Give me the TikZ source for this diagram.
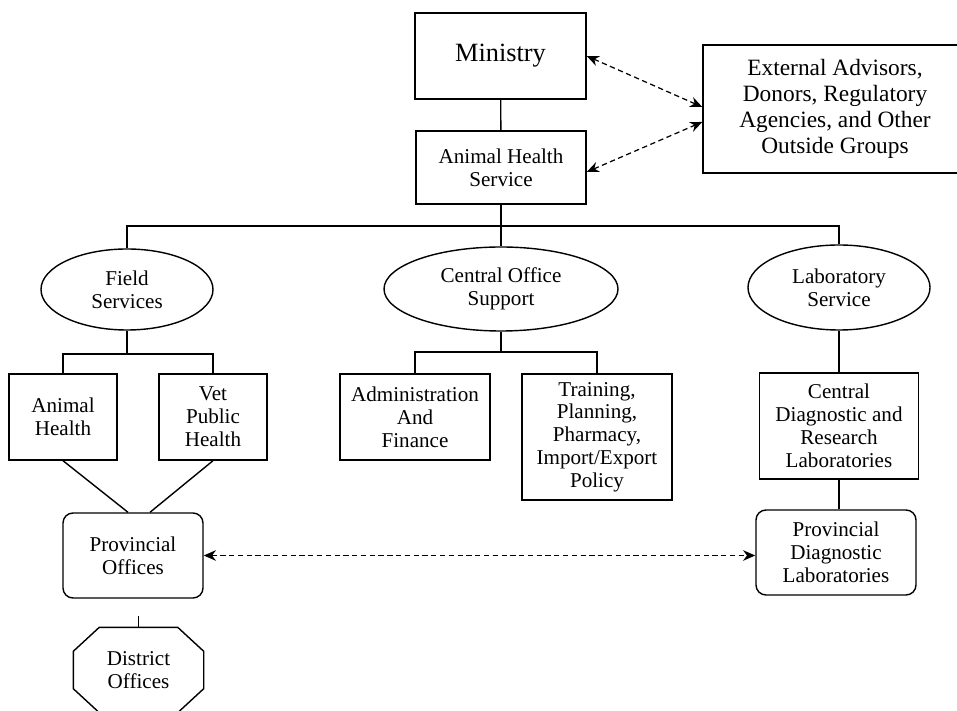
\documentclass[tikz,border=0pt]{standalone}
\usepackage{fontspec}
\setmainfont{Liberation Serif}
\usetikzlibrary{
		arrows.meta,
		shapes.geometric
	}
\tikzset{
		>={Stealth[length=7pt,width=6pt]},
		unit/.style={draw, align=center, inner sep=0pt,
			font=\fontsize{12}{13}\selectfont},
		box/.style={unit, rectangle},
		oval/.style={unit, ellipse},
		roundbox/.style={unit, rectangle, rounded corners=0.2cm},
		link/.style={<->, line width=0.7pt, dash pattern=on 3pt off 2pt}
	}

\begin{document}
\begin{tikzpicture}[line width=0.8pt]
          \useasboundingbox (0,0) rectangle (19.14,14.2);
          \clip (0,0) rectangle (19.14,14.2);

          % top of the tree
          \node[box, minimum width=3.42cm, minimum height=1.72cm,
                font=\fontsize{15}{17}\selectfont] (ministry) at (10.01,13.08) {Ministry};
          \node[box, minimum width=3.40cm, minimum height=1.46cm] (ahs) at (10.02,10.85)
                {Animal Health\\Service};
          \node[box, minimum width=5.28cm, minimum height=2.56cm,
                font=\fontsize{13.3}{14.7}\selectfont] (ext) at (16.70,12.02)
                {External Advisors,\\Donors, Regulatory\\Agencies, and Other\\Outside Groups};

          % the three services
          \node[oval, minimum width=3.44cm, minimum height=1.62cm] (field) at (2.54,8.41)
                {Field\\Services};
          \node[oval, minimum width=4.68cm, minimum height=1.68cm] (central) at (10.02,8.42)
                {Central Office\\Support};
          \node[oval, minimum width=3.64cm, minimum height=1.70cm] (lab) at (16.78,8.45)
                {Laboratory\\Service};

          % units under each service
          \node[box, minimum width=2.16cm, minimum height=1.72cm] (ah) at (1.26,5.86)
                {Animal\\Health};
          \node[box, minimum width=2.16cm, minimum height=1.72cm] (vet) at (4.26,5.86)
                {Vet\\Public\\Health};
          \node[box, minimum width=3.0cm, minimum height=1.72cm] (admin) at (8.30,5.86)
                {Administration\\And\\Finance};
          \node[box, minimum width=3.0cm, minimum height=2.52cm] (training) at (11.94,5.46)
                {Training,\\Planning,\\Pharmacy,\\Import/Export\\Policy};
          \node[box, minimum width=3.18cm, minimum height=2.12cm] (cdiag) at (16.78,5.68)
                {Central\\Diagnostic and\\Research\\Laboratories};

          % provinces and districts
          \node[roundbox, minimum width=2.8cm, minimum height=1.70cm] (provoff) at (2.66,3.09)
                {Provincial\\Offices};
          \node[roundbox, minimum width=3.2cm, minimum height=1.70cm] (pdiag) at (16.72,3.15)
                {Provincial\\Diagnostic\\Laboratories};
          \node[unit, draw=none, minimum width=2.58cm, minimum height=1.68cm] (district) at (2.77,0.80)
                {District\\Offices};
          % octagon round the district node
          \draw ([xshift=0.52cm]district.north west) -- ([xshift=-0.52cm]district.north east)
                -- ([yshift=-0.48cm]district.north east) -- ([yshift=0.48cm]district.south east)
                -- ([xshift=-0.52cm]district.south east) -- ([xshift=0.52cm]district.south west)
                -- ([yshift=0.48cm]district.south west) -- ([yshift=-0.48cm]district.north west)
                -- cycle;

          \coordinate (bus) at (10.02,9.68);
          \coordinate (fbus) at (2.54,7.12);
          \coordinate (cbus) at (10.02,7.16);

          \draw (ministry) -- (ahs);
          \draw (ahs.south) -- (bus);
          \draw (field.north) |- (bus) -| (lab.north);
          \draw (bus) -- (central.north);

          \draw (field.south) -- (fbus);
          \draw (ah.north) |- (fbus) -| (vet.north);
          \draw (central.south) -- (central.south |- cbus);
          \draw (admin.north) |- (cbus) -| (training.north);
          \draw (lab.south) -- (cdiag.north);
          \draw (cdiag.south) -- (cdiag.south |- pdiag.north);

          \draw (ah.south) -- ([xshift=-0.1cm]provoff.north);
          \draw (vet.south) -- ([xshift=0.34cm]provoff.north);
          \draw (district.north) -- ++(0,0.22);

          % outside contacts
          \draw[link] (ministry.east) -- ([yshift=0.04cm]ext.west);
          \draw[link] ([yshift=-0.09cm]ahs.east) -- ([yshift=-0.26cm]ext.west);
          \draw[link] (provoff.east) -- (provoff.east -| pdiag.west);

          \end{tikzpicture}
\end{document}
